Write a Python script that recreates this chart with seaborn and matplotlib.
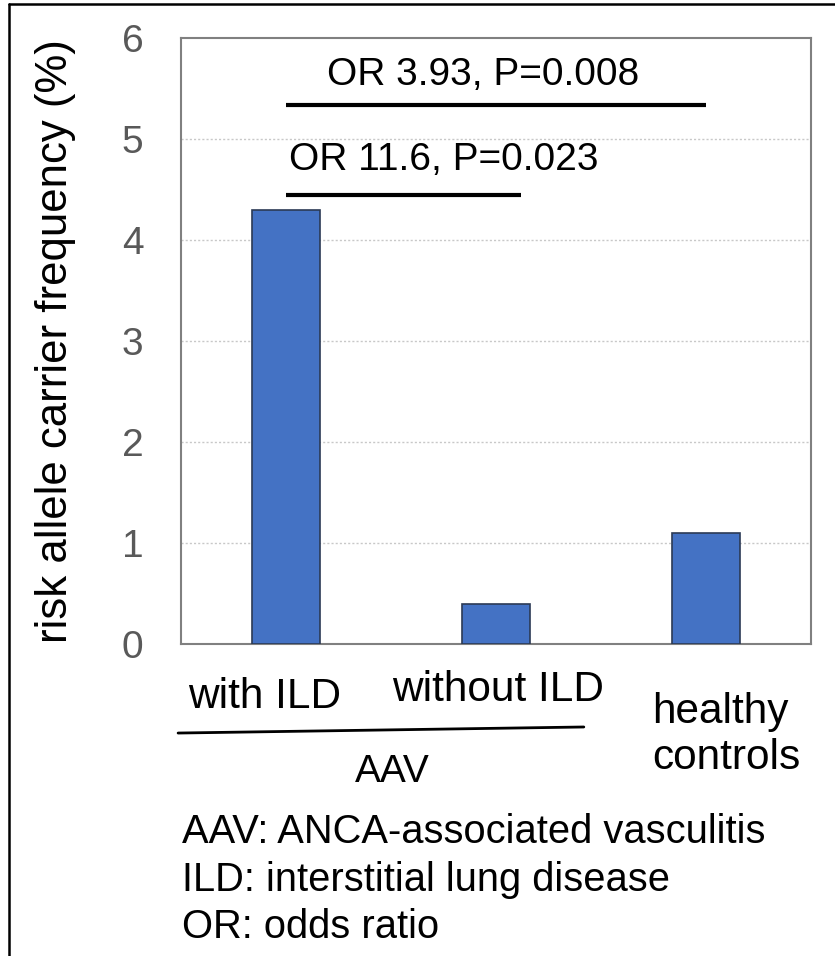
import matplotlib
matplotlib.use("Agg")
import matplotlib.pyplot as plt
from matplotlib.lines import Line2D
import seaborn as sns
import pandas as pd

# data
groups = ["with ILD", "without ILD", "healthy controls"]
freq = [4.3, 0.4, 1.1]
y_ticks = [0, 1, 2, 3, 4, 5, 6]

# comparisons: (from group, to group, bar height, label)
comparisons = [
    (0, 2, 5.34, "OR 3.93, P=0.008"),
    (0, 1.12, 4.45, "OR 11.6, P=0.023"),
]

notes = [
    "AAV: ANCA-associated vasculitis",
    "ILD: interstitial lung disease",
    "OR: odds ratio",
]

sns.set_style("white")
plt.rcParams['font.family'] = ['Liberation Sans', 'DejaVu Sans']
plt.rcParams['text.color'] = 'black'
plt.rcParams['axes.labelcolor'] = 'black'

df = pd.DataFrame({"group": groups, "freq": freq})

fig = plt.figure(figsize=(8.35, 9.56), dpi=100)
ax = fig.add_axes([0.2168, 0.3264, 0.7545, 0.6339])

sns.barplot(data=df, x="group", y="freq", color="#4472C4", saturation=1,
            width=0.325, edgecolor="#2b3a55", linewidth=1.2, ax=ax, zorder=3)

ax.set_ylim(0, 6)
ax.set_xlim(-0.5, 2.5)
ax.set_yticks(y_ticks)
ax.set_yticklabels([str(t) for t in y_ticks], fontsize=28, color="#595959")
ax.tick_params(axis="y", length=0, pad=27)
ax.set_xticks([])
ax.set_xlabel("")
ax.set_ylabel("risk allele carrier frequency (%)", fontsize=31.5, va="center")
ax.yaxis.set_label_coords(-0.2, 0.5)

for t in y_ticks[1:-1]:
    ax.axhline(t, color="#c8c8c8", lw=1, ls=(0, (1.5, 1.5)), zorder=1)

for s in ax.spines.values():
    s.set_color("#808080")
    s.set_linewidth(1.5)

# significance lines
x0, x1, h, lab = comparisons[0]
ax.plot([x0, x1], [h, h], color="black", lw=3, solid_capstyle="butt", zorder=4)
ax.text(0.94, 5.63, lab, ha="center", va="center", fontsize=28)
x0, x1, h, lab = comparisons[1]
ax.plot([x0, x1], [h, h], color="black", lw=3, solid_capstyle="butt", zorder=4)
ax.text(0.012, 4.79, lab, ha="left", va="center", fontsize=28)

# category labels below the axis
xt = ax.get_xaxis_transform()
ax.text(-0.1, -0.0875, "with ILD", transform=xt, ha="center", va="center", fontsize=30.5)
ax.text(1.01, -0.076, "without ILD", transform=xt, ha="center", va="center", fontsize=30.5)
ax.text(1.745, -0.112, "healthy", transform=xt, ha="left", va="center", fontsize=30.5)
ax.text(1.745, -0.188, "controls", transform=xt, ha="left", va="center", fontsize=30.5)

# AAV group line
ax.plot([-0.514, 1.418], [-0.147, -0.137], transform=xt, color="black",
        lw=2, clip_on=False)
ax.text(0.505, -0.211, "AAV", transform=xt, ha="center", va="center", fontsize=28)

# footnotes
for i, note in enumerate(notes):
    fig.text(0.218, 0.1297 - i * 0.0497, note, ha="left", va="center", fontsize=28.7)

# outer frame (top and left edges visible)
fig.add_artist(Line2D([0.0108, 1.0], [0.9958, 0.9958], color="black", lw=1.8))
fig.add_artist(Line2D([0.0108, 0.0108], [0.0, 0.9958], color="black", lw=1.8))

fig.savefig("out.png", dpi=100)
